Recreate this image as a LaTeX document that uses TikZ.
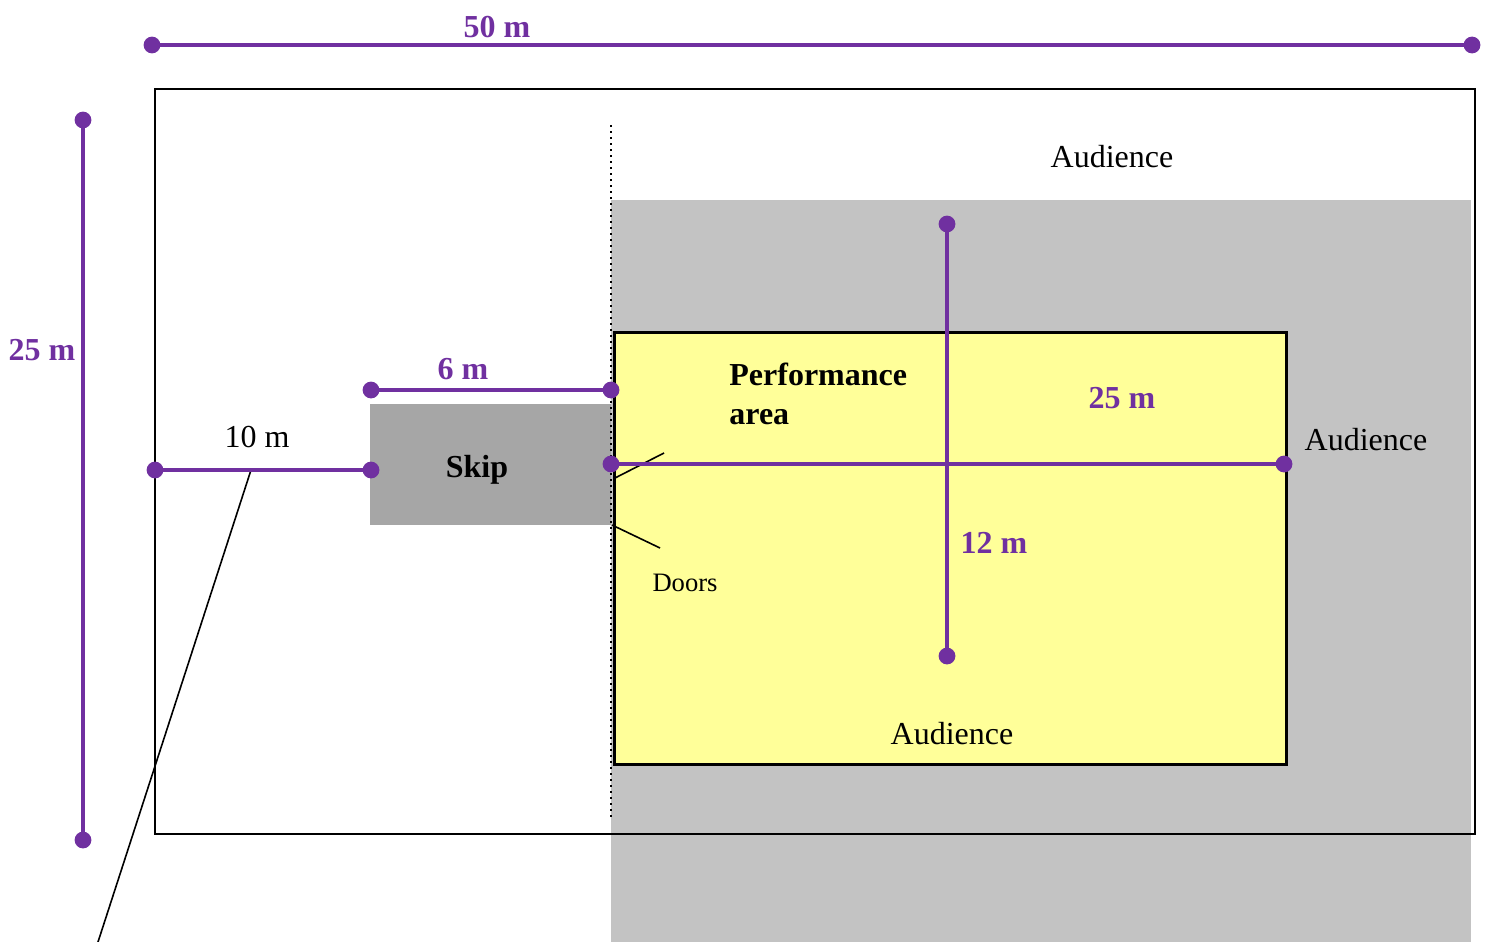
\documentclass[tikz,border=0pt]{standalone}
\usepackage{fontspec}
\setmainfont{Liberation Serif}
\usetikzlibrary{positioning}
\definecolor{dimpurple}{HTML}{7030A0}
\definecolor{audgrey}{HTML}{C3C3C3}
\definecolor{skipgrey}{HTML}{A6A6A6}
\definecolor{stageyellow}{HTML}{FFFF99}
\begin{document}
\begin{tikzpicture}[x=.5pt,y=-.5pt,dim node/.style={circle,fill=dimpurple,minimum size=8.4pt,inner sep=0pt},dim line/.style={draw=dimpurple,line width=1.9pt,shorten >=-2pt,shorten <=-2pt},dim label/.style={text=dimpurple,font=\fontsize{16}{16}\selectfont\bfseries},plain label/.style={font=\fontsize{16}{16}\selectfont},leader/.style={draw=black,line width=.8pt}]
\useasboundingbox (0,0) rectangle (1488,942);
%areas
\fill[audgrey] (611,200) rectangle (1471,942);
\draw[line width=1pt] (155,89) rectangle (1475,834);
\fill[skipgrey] (370,404) rectangle (611,525);
\draw[fill=stageyellow,line width=1.5pt] (614,332) rectangle (1286.5,764);
\draw[line width=1pt,dotted] (611,125) -- (611,818);
%dimension ends
\node[dim node] (w1) at (152,45) {};
\node[dim node] (w2) at (1472,45) {};
\node[dim node] (h1) at (83,120) {};
\node[dim node] (h2) at (83,840) {};
\node[dim node] (s1) at (371,390) {};
\node[dim node] (s2) at (611,390) {};
\node[dim node] (g1) at (155,470) {};
\node[dim node] (g2) at (371,470) {};
\node[dim node] (p1) at (611,464) {};
\node[dim node] (p2) at (1284,464) {};
\node[dim node] (d1) at (947,224) {};
\node[dim node] (d2) at (947,656) {};
%door and gap leaders
\coordinate (door1a) at (615,478);
\coordinate (door1b) at (664,453);
\coordinate (door2a) at (612,525);
\coordinate (door2b) at (660,548);
\coordinate (gap1) at (251,470);
\coordinate (gap2) at (98,942);
\draw[leader] (door1a) -- (door1b);
\draw[leader] (door2a) -- (door2b);
\draw[leader] (gap1) -- (gap2);
\draw[dim line] (w1) -- (w2);
\draw[dim line] (h1) -- (h2);
\draw[dim line] (s1) -- (s2);
\draw[dim line] (g1) -- (g2);
\draw[dim line] (p1) -- (p2);
\draw[dim line] (d1) -- (d2);
%labels
\node[dim label] (l50) at (497,27) {50 m};
\node[dim label] (l25a) at (42,350.5) {25 m};
\node[dim label] (l6) at (463,369.5) {6 m};
\node[dim label] (l25b) at (1122,398.5) {25 m};
\node[dim label] (l12) at (994,542.5) {12 m};
\node[plain label] (l10) at (257,437) {10 m};
\node[plain label] (aud1) at (1112,157) {Audience};
\node[plain label] (aud2) at (1366,440) {Audience};
\node[plain label] (aud3) at (952,734) {Audience};
\node[font=\fontsize{13.3}{13.3}\selectfont] (doors) at (685,583) {Doors};
\node[font=\fontsize{16}{16}\selectfont\bfseries] (skip) at (477,469.5) {Skip};
\node[font=\fontsize{16}{19.5}\selectfont\bfseries,align=left,anchor=north west,inner sep=0pt] (perf) at (729,363) {Performance\\area};
\end{tikzpicture}
\end{document}
